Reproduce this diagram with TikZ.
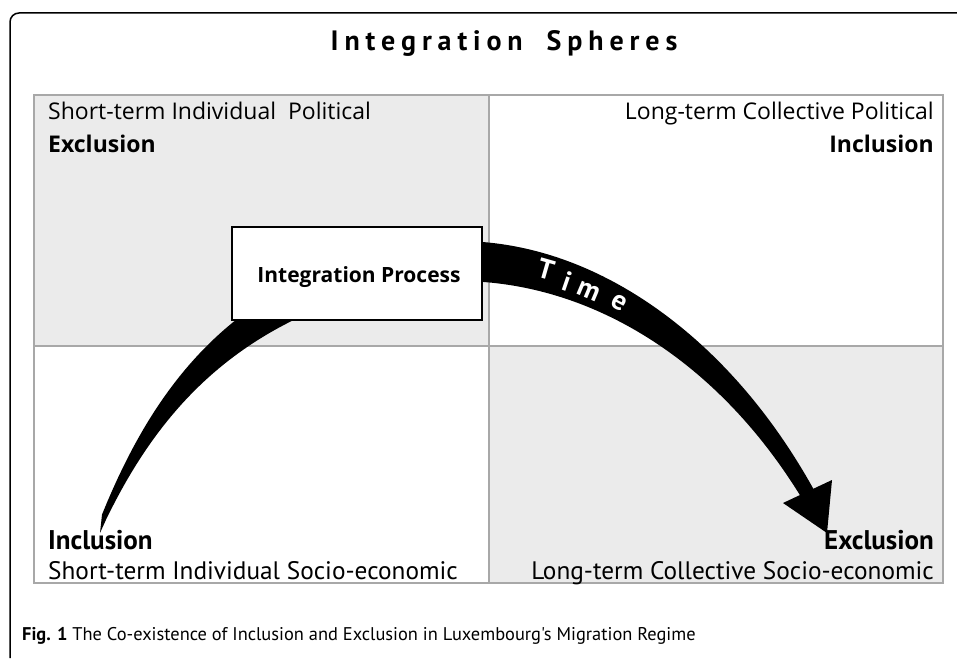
\documentclass[tikz,border=0pt]{standalone}
\usepackage{fontspec}
\setmainfont{Open Sans}
\newfontfamily\ptsans{PT Sans}
\definecolor{qgray}{HTML}{EBEBEB}
\definecolor{lgray}{HTML}{A8A8A8}
\begin{document}
\begin{tikzpicture}[x=1pt,y=-1pt,
  gridline/.style={draw=lgray, line width=1.6pt},
  lbl/.style={inner sep=0pt, font=\fontsize{23}{27}\selectfont},
  blbl/.style={inner sep=0pt, font=\fontsize{23}{27}\selectfont\bfseries},
  clbl/.style={inner sep=0pt, font=\ptsans\fontsize{25.3}{29}\selectfont},
  cblbl/.style={inner sep=0pt, font=\ptsans\fontsize{27}{31}\selectfont\bfseries},
  timel/.style={inner sep=0pt, text=white, font=\ptsans\fontsize{28}{32}\selectfont\bfseries},
  procbox/.style={draw=black, line width=1.3pt, fill=white, minimum width=250pt, minimum height=93pt, inner sep=0pt}]
\useasboundingbox (0,0) rectangle (957,658);
\fill[white] (0,0) rectangle (957,658);
% outer frame
\draw[line width=1.5pt, rounded corners=9pt] (10,658) |- (957,13);
% title
\node[inner sep=0pt, anchor=base, font=\ptsans\fontsize{28}{32}\selectfont\bfseries\addfontfeature{LetterSpace=21}] (title) at (504,51) {Integration\hspace{24pt}Spheres};
% quadrants
\fill[qgray] (34,95) rectangle (489,346);
\fill[qgray] (489,346) rectangle (943,583);
\draw[gridline] (34,95) rectangle (943,583);
\draw[gridline] (489,95) -- (489,583);
\draw[gridline] (34,346) -- (943,346);
% labels
\node[lbl, anchor=base west] (tl1) at (48,120) {Short-term Individual\ \ Political};
\node[blbl, anchor=base west] (tl2) at (48,152) {Exclusion};
\node[lbl, anchor=base east] (tr1) at (934,120) {Long-term Collective Political};
\node[blbl, anchor=base east] (tr2) at (934,152) {Inclusion};
\node[cblbl, anchor=base west] (bl1) at (48,549) {Inclusion};
\node[clbl, anchor=base west] (bl2) at (48,579) {Short-term Individual Socio-economic};
\node[cblbl, anchor=base east] (br1) at (934,549) {Exclusion};
\node[clbl, anchor=base east] (br2) at (934,579) {Long-term Collective Socio-economic};
% time arrow (band)
\coordinate (tail) at (100,533);
\fill[black] (tail)
  -- plot[domain=-3.56:0, samples=70] ({458+100*\x}, {241+15*\x*\x+0.041*(\x*\x)^3})
  -- plot[domain=0:3.58, samples=70] ({458+100*\x}, {241+16.5*\x*\x+0.15*(\x*\x)^2+4*((\x/3)^2)^4})
  -- plot[domain=3.45:0, samples=70] ({458+100*\x}, {281+15*\x*\x+0.2*(\x*\x)^2+4*((\x/3)^2)^4})
  -- plot[domain=0:-3.52, samples=70] ({458+100*\x}, {281+14.2*\x*\x+0.033*(\x*\x)^3})
  -- cycle;
\coordinate (hb1) at (783,503);
\coordinate (hb2) at (832,480);
\coordinate (htip) at (827,533);
\fill[black] (hb1) -- (hb2) -- (htip) -- cycle;
% process box
\node[procbox] (box) at (357,273.5) {};
\node[inner sep=0pt, font=\fontsize{21}{25}\selectfont\bfseries, anchor=base] (boxtxt) at (359,282) {Integration Process};
% Time letters
\node[timel, rotate=-16] (t1) at (546,269) {T};
\node[timel, rotate=-19] (t2) at (567,281) {i};
\node[timel, rotate=-23] (t3) at (589,291) {m};
\node[timel, rotate=-28] (t4) at (619,303) {e};
% caption
\node[inner sep=0pt, anchor=base west, font=\ptsans\fontsize{18.4}{22}\selectfont] (cap) at (22,640) {\textbf{Fig. 1} The Co-existence of Inclusion and Exclusion in Luxembourg's Migration Regime};
\end{tikzpicture}
\end{document}
